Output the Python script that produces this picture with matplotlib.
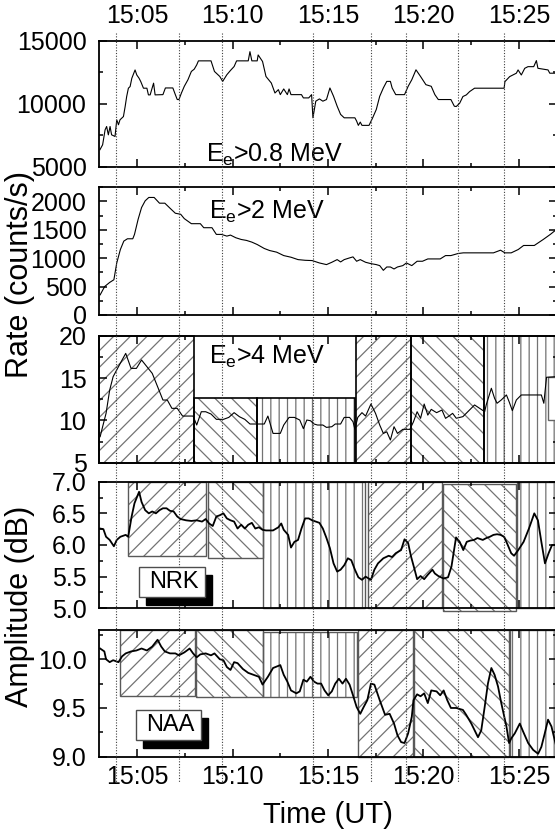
import numpy as np
import matplotlib
matplotlib.use('Agg')
import matplotlib.pyplot as plt
from matplotlib.patches import Rectangle
from matplotlib.lines import Line2D
from matplotlib.ticker import MultipleLocator, FuncFormatter, FormatStrFormatter
import matplotlib.transforms as mtrans

plt.rcParams['font.family'] = ['Liberation Sans', 'DejaVu Sans']
plt.rcParams['mathtext.default'] = 'regular'
plt.rcParams['hatch.linewidth'] = 0.9
narrow = ['Liberation Sans Narrow', 'Liberation Sans']

# time in minutes after 15:00
# Ee > 0.8 MeV
t1 = [3.05,3.19,3.32,3.40,3.49,3.58,3.66,3.84,3.93,4.02,4.10,4.28,4.37,4.45,4.54,4.63,4.72,4.89,4.98,5.10,
      5.19,5.33,5.51,5.59,5.68,5.86,5.94,6.35,6.48,6.87,7.00,7.10,7.19,7.32,7.47,7.66,7.84,7.99,8.12,8.21,
      8.87,9.05,9.33,9.48,9.70,9.89,10.08,10.21,10.82,10.91,11.01,11.29,11.34,11.57,11.75,12.03,12.22,12.40,
      12.50,12.68,12.87,12.96,13.06,13.61,13.71,13.99,14.14,14.21,14.36,14.55,14.73,14.92,15.10,15.29,15.48,
      15.66,15.85,16.41,16.50,16.59,16.69,16.78,17.15,17.34,17.53,17.71,17.90,18.08,18.27,18.36,18.55,19.01,
      19.20,19.39,19.61,19.85,20.13,20.41,20.60,20.78,21.44,21.62,21.72,21.90,22.07,22.25,22.42,22.68,24.23,
      24.27,24.52,24.87,24.96,25.13,25.31,25.48,25.78,25.92,26.00,26.53,26.62,26.97]
r1 = [6350,6740,7930,8190,7530,8190,7530,7400,8720,8330,8720,8980,9770,10570,11230,11360,12020,12680,12280,12020,
      11750,11230,11230,10700,10700,11630,10700,10720,11250,11250,10720,10330,10330,10850,11380,11900,12560,12740,13080,13400,
      13400,12560,12160,11770,12300,12640,12950,13400,13400,14130,13400,13400,13870,13350,12160,11640,10850,11115,
      10720,11170,10720,11170,10720,10720,10460,10460,10720,8880,10200,10380,10200,10330,11250,10590,9800,
      9150,8880,8880,8620,8280,8540,8280,8280,8880,9540,10590,11250,11770,11770,11250,10720,10720,
      11380,11900,12690,12160,11510,11380,10720,10330,10330,9800,9775,10040,10570,10700,10960,11230,11230,
      11750,12150,12420,12680,12280,12810,12940,12940,13420,12810,12680,12420,12420]

# Ee > 2 MeV
t2 = [3.06,3.30,3.56,3.78,3.93,4.12,4.30,4.49,4.77,4.86,5.05,5.23,5.42,5.61,5.89,6.17,6.45,6.72,7.00,7.28,
      7.47,7.84,8.31,8.49,8.92,9.15,9.42,9.70,9.89,10.17,10.45,10.73,11.01,11.29,11.66,11.94,12.31,12.68,
      13.06,13.43,13.80,14.17,14.55,14.92,15.20,15.48,15.66,15.85,16.13,16.31,16.50,16.69,16.97,17.25,17.53,
      17.71,17.90,18.08,18.27,18.46,18.64,18.92,19.11,19.39,19.67,19.95,20.23,20.50,20.88,21.16,21.44,21.81,
      22.09,22.93,23.67,24.04,24.27,24.60,24.97,25.25,25.81,26.28,26.65,26.98]
r2 = [355,503,574,621,917,1154,1302,1343,1343,1420,1686,1893,2012,2071,2071,1970,1970,1882,1793,1775,
      1698,1609,1609,1538,1538,1420,1420,1390,1408,1361,1331,1314,1284,1242,1172,1136,1107,1047,
      1018,976,964,959,917,888,929,976,935,976,1006,1024,947,976,929,905,888,
      870,787,846,846,811,846,870,917,870,947,947,988,988,988,1047,1047,1083,
      1095,1095,1095,1142,1095,1095,1154,1225,1225,1331,1420,1509]

# Ee > 4 MeV
t3 = [3.06,3.19,3.37,3.56,3.74,4.02,4.21,4.40,4.68,4.96,5.23,5.51,5.79,6.07,6.35,6.58,6.82,7.10,7.38,7.93,
      8.12,8.36,8.59,8.87,9.15,9.52,9.80,10.08,10.36,10.64,10.91,11.29,11.66,11.85,12.12,12.50,12.68,12.96,
      13.24,13.52,13.71,13.89,14.08,14.27,14.45,14.73,14.92,15.20,15.38,15.66,15.85,16.13,16.31,16.41,16.56,
      16.78,16.97,17.25,17.49,17.71,17.90,18.08,18.27,18.46,18.64,18.92,19.11,19.29,19.48,19.67,19.85,20.04,
      20.23,20.41,20.69,20.97,21.16,21.34,21.53,21.72,22.07,22.33,22.68,22.94,23.21,23.29,23.56,23.73,23.86,
      24.08,24.35,24.49,24.66,24.87,25.13,26.18,26.31,26.45,26.97]
r3 = [8.07,9.25,10.83,13.58,15.16,16.34,17.13,17.91,16.14,16.14,17.13,16.34,15.55,13.98,12.40,12.40,11.42,11.42,10.51,10.51,
      9.45,11.02,11.02,10.75,10.12,10.12,10.35,10.91,10.43,10.12,9.57,9.57,9.57,10.51,8.46,8.46,9.45,10.35,
      10.35,10.04,9.02,10.04,9.96,9.57,9.45,9.45,9.17,9.25,9.57,9.57,10.35,10.35,9.84,8.94,10.35,
      10.91,10.51,11.93,10.83,9.45,8.46,8.65,7.68,9.25,8.46,8.94,8.94,8.94,9.84,11.02,10.24,11.93,
      10.62,11.30,10.91,11.22,10.24,10.51,10.83,10.25,10.44,11.03,11.82,11.43,11.03,11.82,13.79,12.60,12.02,
      12.41,13.00,12.21,11.15,12.41,13.00,13.00,12.02,15.09,15.16]

# NRK amplitude (dB)
t4 = [3.06,3.23,3.37,3.56,3.78,3.93,4.12,4.40,4.53,4.71,4.86,5.10,5.23,5.42,5.61,5.79,5.98,6.17,6.35,6.54,
      6.72,6.91,7.10,7.28,7.56,7.84,8.12,8.40,8.59,8.77,8.96,9.15,9.33,9.52,9.70,9.89,10.08,10.26,10.45,10.64,
      10.82,11.01,11.19,11.38,11.57,11.75,12.12,12.40,12.55,12.68,12.91,13.06,13.24,13.43,13.61,13.80,13.99,
      14.17,14.36,14.55,14.73,14.92,15.10,15.29,15.48,15.66,15.85,16.04,16.22,16.41,16.59,16.78,16.97,17.25,
      17.43,17.62,17.90,18.18,18.36,18.55,18.83,19.01,19.20,19.35,19.54,19.67,19.85,20.04,20.23,20.47,20.60,
      20.78,21.06,21.29,21.47,21.71,21.90,22.09,22.27,22.46,22.65,22.83,23.11,23.30,23.48,23.67,23.86,24.04,
      24.23,24.42,24.60,24.75,24.97,25.25,25.53,25.81,26.00,26.18,26.37,26.56,26.74,26.98]
a4 = [6.26,6.25,6.13,6.08,5.98,6.08,6.13,6.16,6.13,6.45,6.66,6.84,6.68,6.55,6.50,6.53,6.50,6.55,6.58,6.58,
      6.54,6.53,6.45,6.41,6.39,6.38,6.39,6.37,6.41,6.34,6.30,6.45,6.47,6.50,6.42,6.39,6.37,6.26,6.32,6.26,
      6.32,6.35,6.26,6.28,6.24,6.23,6.23,6.28,6.34,6.24,6.16,5.96,6.05,6.08,6.26,6.42,6.42,
      6.39,6.37,6.35,6.26,6.11,5.95,5.71,5.58,5.61,5.68,5.79,5.76,5.61,5.49,5.45,5.50,5.45,
      5.61,5.71,5.79,5.83,5.81,5.87,5.92,6.09,6.03,5.82,5.61,5.46,5.51,5.46,5.53,5.61,5.55,
      5.51,5.47,5.49,5.66,6.12,6.05,5.92,6.05,6.07,6.08,6.11,6.08,6.11,6.13,6.16,6.17,6.16,
      6.13,6.00,5.87,5.83,5.92,6.05,6.26,6.50,6.39,6.05,5.71,5.87,6.00,6.00]

# NAA amplitude (dB)
t5 = [3.06,3.28,3.37,3.56,3.74,4.02,4.21,4.40,4.68,4.96,5.23,5.51,5.79,6.07,6.26,6.45,6.72,7.00,7.19,7.47,
      7.75,7.93,8.12,8.31,8.59,8.87,9.05,9.33,9.52,9.70,9.89,10.08,10.26,10.54,10.82,11.10,11.38,11.57,11.85,
      12.12,12.50,12.68,12.87,13.06,13.34,13.52,13.71,13.89,14.08,14.27,14.45,14.64,14.82,15.01,15.20,15.38,
      15.57,15.76,15.94,16.13,16.31,16.50,16.69,16.87,17.06,17.25,17.43,17.71,17.99,18.23,18.46,18.64,18.83,
      19.01,19.20,19.39,19.48,19.67,19.85,20.04,20.23,20.41,20.69,20.88,21.06,21.25,21.44,21.72,22.07,22.24,
      22.51,22.86,23.03,23.21,23.38,23.56,23.73,23.91,24.08,24.35,24.49,24.61,24.79,25.05,25.22,25.49,25.75,
      26.01,26.18,26.36,26.53,26.71,26.88,26.97]
a5 = [10.11,10.08,10.00,9.97,9.99,9.97,10.03,10.06,10.08,10.09,10.11,10.09,10.13,10.20,10.13,10.08,10.06,10.06,10.04,10.07,
      10.11,10.06,10.02,10.05,10.06,10.04,10.06,10.00,9.99,9.92,9.89,9.97,9.96,9.90,9.86,9.84,9.82,9.74,9.82,
      9.91,9.94,9.84,9.77,9.68,9.65,9.67,9.79,9.77,9.82,9.77,9.75,9.75,9.68,9.63,9.67,9.75,
      9.80,9.75,9.80,9.74,9.63,9.51,9.44,9.51,9.58,9.75,9.74,9.58,9.43,9.44,9.34,9.22,9.15,
      9.14,9.24,9.41,9.58,9.64,9.62,9.65,9.55,9.68,9.67,9.63,9.68,9.58,9.50,9.50,9.48,9.43,
      9.34,9.20,9.27,9.51,9.75,9.91,9.84,9.72,9.55,9.31,9.14,9.19,9.24,9.34,9.26,9.14,9.07,
      9.03,9.10,9.24,9.38,9.31,9.17,9.10]

# event times (dotted lines through all panels)
event_t = [3.88, 7.19, 9.47, 14.19, 17.25, 19.07, 21.81, 24.21]

# shaded intervals per panel: start, end, low, high, hatch
box3_t0 = [3.0, 8.0, 11.29, 16.46, 19.35, 23.2]
box3_t1 = [8.0, 11.29, 16.41, 19.35, 23.2, 27.5]
box3_lo = [5, 5, 5, 5, 5, 5]
box3_hi = [20, 12.7, 12.7, 20, 20, 20]

box4_t0 = [4.53, 8.70, 11.60, 17.08, 21.02, 24.92]
box4_t1 = [8.63, 11.57, 16.96, 20.97, 24.87, 27.5]
box4_lo = [5.83, 5.79, 5.0, 5.0, 4.95, 5.0]
box4_hi = [7.0, 7.0, 7.0, 7.0, 6.97, 7.0]

box5_t0 = [4.12, 8.09, 11.60, 16.59, 19.53, 24.54]
box5_t1 = [8.03, 11.57, 16.54, 19.48, 24.50, 27.5]
box5_lo = [9.62, 9.61, 9.61, 9.0, 9.0, 9.0]
box5_hi = [10.3, 10.3, 10.28, 10.3, 10.3, 10.3]

hatches = ['//', '\\\\', '||', '//', '\\\\', '||']

fig = plt.figure(figsize=(5.55, 8.31), dpi=100)
L, W = 99 / 555, 458 / 555
rows = [(40.7, 166.7), (187.3, 315.0), (335.7, 462.7), (481.7, 608.3), (630.0, 756.7)]
axes = [fig.add_axes([L, 1 - b / 831, W, (b - t) / 831]) for t, b in rows]
ax1, ax2, ax3, ax4, ax5 = axes

def draw_boxes(ax, t0, t1, lo, hi, edge, lw):
    for a, b, y0, y1, h in zip(t0, t1, lo, hi, hatches):
        ax.add_patch(Rectangle((a, y0), b - a, y1 - y0, facecolor='none', edgecolor='0.45',
                               hatch=h, linewidth=0, zorder=1, clip_on=False))
        ax.add_patch(Rectangle((a, y0), b - a, y1 - y0, facecolor='none', edgecolor=edge,
                               linewidth=lw, zorder=1.5, clip_on=False))

draw_boxes(ax3, box3_t0, box3_t1, box3_lo, box3_hi, 'k', 1.2)
draw_boxes(ax4, box4_t0, box4_t1, box4_lo, box4_hi, '0.35', 1.0)
draw_boxes(ax5, box5_t0, box5_t1, box5_lo, box5_hi, '0.35', 1.0)
ax3.add_patch(Rectangle((26.54, 10.05), 2, 5.1, facecolor='white', edgecolor='0.4',
                        linewidth=1.0, zorder=1.6, clip_on=False))

ax1.plot(t1, r1, color='k', lw=0.8, zorder=3)
ax2.plot(t2, r2, color='k', lw=0.8, zorder=3)
ax3.plot(t3, r3, color='k', lw=0.8, zorder=3)
ax4.plot(t4, a4, color='k', lw=1.3, zorder=3)
ax5.plot(t5, a5, color='k', lw=1.3, zorder=3)

ylims = [(5000, 15000), (0, 2250), (5, 20), (5.0, 7.0), (9.0, 10.3)]
ymaj = [5000, 500, 5, 0.5, 0.5]
for ax, yl, ym in zip(axes, ylims, ymaj):
    ax.set_xlim(3, 27)
    ax.set_ylim(*yl)
    ax.xaxis.set_major_locator(MultipleLocator(5))
    ax.xaxis.set_minor_locator(MultipleLocator(2.5))
    ax.yaxis.set_major_locator(MultipleLocator(ym))
    ax.yaxis.set_minor_locator(MultipleLocator(ym / 2))
    ax.xaxis.set_major_formatter(FuncFormatter(lambda x, p: '15:%02d' % round(x)))
    ax.tick_params(which='both', direction='in', top=True, right=True, width=1.1,
                   labelbottom=False, labelsize=18, labelfontfamily=narrow, pad=9)
    ax.tick_params(which='major', length=6)
    ax.tick_params(which='minor', length=3)
    for s in ax.spines.values():
        s.set_linewidth(1.3)
ax4.yaxis.set_major_formatter(FormatStrFormatter('%.1f'))
ax5.yaxis.set_major_formatter(FormatStrFormatter('%.1f'))
ax1.tick_params(axis='x', labeltop=True)
ax5.tick_params(axis='x', labelbottom=True, pad=6)

ax1.text(8.62, 5420, 'E$_e$>0.8 MeV', fontsize=18, va='baseline', zorder=4)
ax2.text(8.77, 1700, 'E$_e$>2 MeV', fontsize=18, va='baseline', zorder=4)
ax3.text(8.77, 16.7, 'E$_e$>4 MeV', fontsize=18, va='baseline', zorder=4)

# dotted event lines across the whole column
blend = mtrans.blended_transform_factory(ax5.transData, fig.transFigure)
for t in event_t:
    fig.add_artist(Line2D([t, t], [1 - 33 / 831, 1 - 783 / 831], transform=blend,
                          color='0.25', lw=0.8, ls=(0, (1, 1.5)), zorder=4))

# station labels with drop shadow (pixel positions)
def px_rect(x0, y0, x1, y1, **kw):
    return Rectangle((x0 / 555, 1 - y1 / 831), (x1 - x0) / 555, (y1 - y0) / 831,
                     transform=fig.transFigure, **kw)

for name, (x0, y0, x1, y1) in [('NRK', (139, 567, 205, 597)), ('NAA', (136, 710, 201, 740))]:
    fig.add_artist(px_rect(x0 + 6.5, y0 + 8, x1 + 6.5, y1 + 8, facecolor='k', edgecolor='k', zorder=5))
    fig.add_artist(px_rect(x0, y0, x1, y1, facecolor='white', edgecolor='0.3', lw=1.0, zorder=5.1))
    fig.text((x0 + x1) / 2 / 555 + 0.003, 1 - (y0 + y1) / 2 / 831, name, fontsize=17,
             ha='center', va='center', zorder=5.2)

fig.text(20 / 555, 1 - 275 / 831, 'Rate (counts/s)', rotation=90, fontsize=22,
         ha='center', va='center')
fig.text(20 / 555, 1 - 606 / 831, 'Amplitude (dB)', rotation=90, fontsize=22,
         ha='center', va='center')
fig.text(327.5 / 555, 1 - 823 / 831, 'Time (UT)', fontsize=21, ha='center', va='baseline')

fig.savefig('out.png', dpi=100)
